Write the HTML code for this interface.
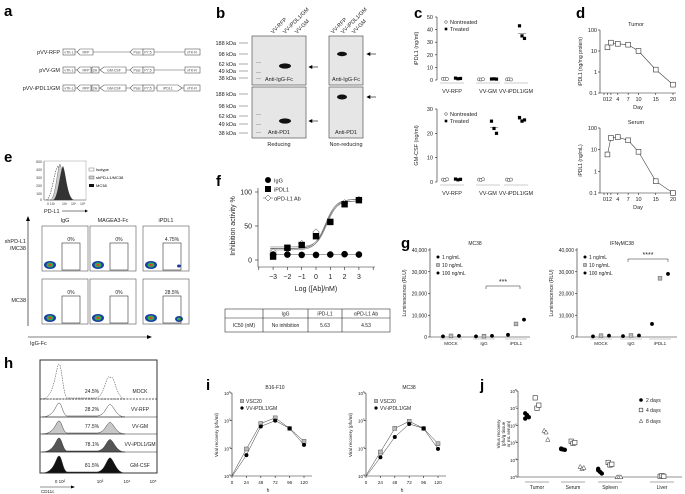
<!DOCTYPE html>
<html><head><meta charset="utf-8">
<style>
html,body{margin:0;padding:0;background:#fff;}
svg{display:block;font-family:"Liberation Sans",Arial,sans-serif;}
.t{font-size:5.5px;fill:#222;}
.L{font-size:15px;font-weight:bold;fill:#000;}
</style></head>
<body>
<svg id="fig" width="685" height="494" viewBox="0 0 685 494" xmlns="http://www.w3.org/2000/svg">
<text class="L" x="4" y="16">a</text>
<text class="L" x="216" y="18">b</text>
<text class="L" x="414" y="18">c</text>
<text class="L" x="576" y="18">d</text>
<text class="L" x="4" y="162">e</text>
<text class="L" x="216" y="186">f</text>
<text class="L" x="401" y="248">g</text>
<text class="L" x="4" y="368">h</text>
<text class="L" x="206" y="390">i</text>
<text class="L" x="480" y="390">j</text>

<g id="pa" stroke="#555" stroke-width="0.6" fill="#fff">
<text class="t" x="60" y="54" text-anchor="end" stroke="none">pVV-RFP</text>
<line x1="75" y1="52" x2="186" y2="52"/>
<rect x="63" y="49" width="12" height="6"/>
<polygon points="80,49 93,49 93,55 80,55 77,52"/>
<polygon points="133,49 143,49 143,55 133,55 130,52"/>
<rect x="143" y="49" width="11" height="6"/>
<rect x="185" y="49" width="15" height="6"/>
<text class="t" x="60" y="72" text-anchor="end" stroke="none">pVV-GM</text>
<line x1="75" y1="70" x2="186" y2="70"/>
<rect x="63" y="67" width="12" height="6"/>
<polygon points="80,67 91,67 91,73 80,73 77,70"/>
<rect x="92" y="67" width="7" height="6"/>
<polygon points="104,67 126,67 126,73 104,73 100,70"/>
<polygon points="133,67 143,67 143,73 133,73 130,70"/>
<rect x="143" y="67" width="11" height="6"/>
<rect x="185" y="67" width="15" height="6"/>
<text class="t" x="60" y="90" text-anchor="end" stroke="none">pVV-iPDL1/GM</text>
<line x1="75" y1="88" x2="186" y2="88"/>
<rect x="63" y="85" width="12" height="6"/>
<polygon points="80,85 91,85 91,91 80,91 77,88"/>
<rect x="92" y="85" width="7" height="6"/>
<polygon points="104,85 126,85 126,91 104,91 100,88"/>
<polygon points="133,85 143,85 143,91 133,91 130,88"/>
<rect x="143" y="85" width="11" height="6"/>
<polygon points="157,85 178,85 182,88 178,91 157,91"/>
<rect x="184" y="85" width="16" height="6"/>
<g stroke="none" fill="#444" font-size="3.5" text-anchor="middle">
<text x="69" y="53.5">vTK-L</text><text x="86" y="53.5">RFP</text><text x="137" y="53.5">PseI</text><text x="148" y="53.5">P7.5</text><text x="192" y="53.5">vTK-R</text>
<text x="69" y="71.5">vTK-L</text><text x="86" y="71.5">RFP</text><text x="95" y="71.5">2A</text><text x="114" y="71.5">GM-CSF</text><text x="137" y="71.5">PseI</text><text x="148" y="71.5">P7.5</text><text x="192" y="71.5">vTK-R</text>
<text x="69" y="89.5">vTK-L</text><text x="86" y="89.5">RFP</text><text x="95" y="89.5">2A</text><text x="114" y="89.5">GM-CSF</text><text x="137" y="89.5">PseI</text><text x="148" y="89.5">P7.5</text><text x="168" y="89.5">iPDL1</text><text x="192" y="89.5">vTK-R</text>
</g>
</g>

<g>
<rect x="252" y="36" width="54" height="49" fill="#e6e6e6" stroke="#555" stroke-width="0.7"/>
<rect x="252" y="87" width="54" height="51" fill="#e6e6e6" stroke="#555" stroke-width="0.7"/>
<rect x="329" y="36" width="34" height="49" fill="#e6e6e6" stroke="#555" stroke-width="0.7"/>
<rect x="329" y="87" width="34" height="51" fill="#e6e6e6" stroke="#555" stroke-width="0.7"/>
<ellipse cx="285" cy="66" rx="6" ry="2.6" fill="#111"/>
<ellipse cx="285" cy="121" rx="6" ry="2.6" fill="#111"/>
<ellipse cx="342" cy="54" rx="5" ry="2.2" fill="#111"/>
<ellipse cx="342" cy="97" rx="5" ry="2.5" fill="#111"/>
<g fill="#bbb"><rect x="256" y="62" width="5" height="1"/><rect x="256" y="72" width="5" height="1"/><rect x="256" y="78" width="5" height="1"/><rect x="256" y="114" width="5" height="1"/><rect x="256" y="124" width="5" height="1"/><rect x="256" y="132" width="5" height="1"/></g>
<g class="t" text-anchor="end" font-size="5">
<text x="236" y="45">188 kDa</text><text x="236" y="56">98 kDa</text><text x="236" y="66">62 kDa</text><text x="236" y="73">49 kDa</text><text x="236" y="80">38 kDa</text>
<text x="236" y="96">188 kDa</text><text x="236" y="108">98 kDa</text><text x="236" y="118">62 kDa</text><text x="236" y="126">49 kDa</text><text x="236" y="135">38 kDa</text>
</g>
<g stroke="#555" stroke-width="0.5"><line x1="239" y1="43" x2="248" y2="43"/><line x1="239" y1="54" x2="248" y2="54"/><line x1="239" y1="64" x2="248" y2="64"/><line x1="239" y1="71" x2="248" y2="71"/><line x1="239" y1="78" x2="248" y2="78"/><line x1="239" y1="94" x2="248" y2="94"/><line x1="239" y1="106" x2="248" y2="106"/><line x1="239" y1="116" x2="248" y2="116"/><line x1="239" y1="124" x2="248" y2="124"/><line x1="239" y1="133" x2="248" y2="133"/></g>
<text class="t" x="279" y="81" text-anchor="middle">Anti-IgG-Fc</text>
<text class="t" x="279" y="134" text-anchor="middle">Anti-PD1</text>
<text class="t" x="346" y="81" text-anchor="middle">Anti-IgG-Fc</text>
<text class="t" x="346" y="134" text-anchor="middle">Anti-PD1</text>
<text class="t" x="279" y="146" text-anchor="middle">Reducing</text>
<text class="t" x="346" y="146" text-anchor="middle">Non-reducing</text>
<g class="t" font-size="4.5">
<text transform="translate(273,34) rotate(-45)">VV-RFP</text><text transform="translate(285,34) rotate(-45)">VV-iPDL1/GM</text><text transform="translate(297,34) rotate(-45)">VV-GM</text>
<text transform="translate(333,34) rotate(-45)">VV-RFP</text><text transform="translate(343,34) rotate(-45)">VV-iPDL1/GM</text><text transform="translate(354,34) rotate(-45)">VV-GM</text>
</g>
<g stroke="#000" stroke-width="0.6" fill="#000"><line x1="310" y1="67" x2="318" y2="67"/><polygon points="309,67 312,65.5 312,68.5"/><line x1="310" y1="121" x2="318" y2="121"/><polygon points="309,121 312,119.5 312,122.5"/><line x1="368" y1="54" x2="376" y2="54"/><polygon points="367,54 370,52.5 370,55.5"/><line x1="368" y1="97" x2="376" y2="97"/><polygon points="367,97 370,95.5 370,98.5"/></g>
</g>

<g>
<g>
<line x1="44" y1="161" x2="44" y2="200" stroke="#444" stroke-width="0.5"/><line x1="44" y1="200" x2="86" y2="200" stroke="#444" stroke-width="0.5"/>
<rect x="44" y="161" width="42" height="39" fill="none" stroke="#888" stroke-width="0.4"/>
<path d="M46,200 C52,199 54,170 58,166 C61,172 62,198 70,200Z" fill="none" stroke="#444" stroke-width="0.6" stroke-dasharray="1.5,1"/>
<path d="M50,200 C56,199 57,168 60,164 C63,170 64,198 72,200Z" fill="#ccc" stroke="#555" stroke-width="0.4"/>
<path d="M53,200 C58,199 60,170 63,166 C66,172 67,198 74,200Z" fill="#333"/>
<g font-size="3.5" fill="#333" text-anchor="end"><text x="42" y="163">500</text><text x="42" y="171">400</text><text x="42" y="179">300</text><text x="42" y="187">200</text><text x="42" y="195">100</text><text x="42" y="201">0</text></g>
<g font-size="3.5" fill="#333"><text x="47" y="205">0 10²</text><text x="62" y="205">10³</text><text x="71" y="205">10⁴</text><text x="80" y="205">10⁵</text></g>
<text class="t" x="44" y="213">PD-L1</text><line x1="62" y1="211" x2="86" y2="211" stroke="#000" stroke-width="0.5"/><polygon points="88,211 85,209.5 85,212.5"/>
<rect x="89" y="168" width="5" height="3" fill="#fff" stroke="#555" stroke-width="0.4"/><text font-size="4" x="96" y="171">Isotype</text>
<rect x="89" y="176" width="5" height="3" fill="#ccc" stroke="#555" stroke-width="0.4"/><text font-size="4" x="96" y="179">shPD-L1/MC38</text>
<rect x="89" y="184" width="5" height="3" fill="#111"/><text font-size="4" x="96" y="187">MC38</text>
</g>
<g id="egrid"></g>
<line x1="28" y1="326" x2="28" y2="220" stroke="#000" stroke-width="0.6"/><polygon points="28,216 26,221 30,221"/>
<line x1="28" y1="337" x2="148" y2="337" stroke="#000" stroke-width="0.6"/><polygon points="152,337 147,335 147,339"/>
<text class="t" x="30" y="345">IgG-Fc</text>
<text class="t" x="26" y="243" text-anchor="end">shPD-L1</text><text class="t" x="26" y="250" text-anchor="end">/MC38</text>
<text class="t" x="26" y="302" text-anchor="end">MC38</text>
</g>

<g id="ph"></g>
<g id="charts"></g>
</svg>
<script>
// c
const cGroups = ['VV-RFP','VV-GM','VV-iPDL1/GM'];
const cIpdl1Non = [[1,1,0.8],[0.5,0.4,0.6],[0.5,0.6,0.4]];
const cIpdl1Tr = [[1.5,1.0,1.2],[0.8,0.9,0.7],[43,35,33]];
const cGmNon = [[1,0.8,1.1],[1,0.9,1.1],[1,0.8,1.0]];
const cGmTr = [[1.2,0.9,1.1],[25,22,20],[26.5,25,25.5]];
// d
const dDays = [1,2,4,7,10,15,20];
const dTumor = [15,25,22,20,10,1.3,0.25];
const dSerum = [6,35,38,27,8,0.35,0.1];
const dTicks = [0,1,2,4,7,10,15,20];
// e
const ePercents = [['0%','0%','4.75%'],['0%','0%','28.5%']];
const eCols = ['IgG','MAGEA3-Fc','iPDL1'];
// f
const fX = [-3,-2,-1,0,1,2,3];
const fIgG = [8,8,7.5,7.5,8,8.5,8];
const fIpdl1 = [5,18,22,35,56,82,88];
const fAb = [12,16,24,41,56,84,89];
const fFitIpdl1 = [18,88,0.75];
const fFitAb = [16,88,0.66];
const fTable = [['','IgG','iPD-L1','αPD-L1 Ab'],['IC50 (nM)','No inhibition','5.63','4.53']];
// g
const gGroups = ['MOCK','IgG','iPDL1'];
const gDoses = ['1 ng/mL','10 ng/mL','100 ng/mL'];
const gMC38 = [[300,300,1000],[500,400,6000],[500,500,8000]];
const gIFN = [[300,400,6000],[600,700,27000],[600,700,29000]];
const gTicks = [0,10000,20000,30000,40000];
// h
const hRows = ['MOCK','VV-RFP','VV-GM','VV-iPDL1/GM','GM-CSF'];
const hPct = ['24.5%','28.2%','77.5%','78.1%','81.5%'];
const hFill = ['none','#fff','#c8c8c8','#555','#111'];
// i
const iHours = [0,24,48,72,96,120];
const iB16Vsc = [1e3,9e3,7.5e4,1.2e5,5e4,1.7e4];
const iB16Ipd = [1e3,6e3,6.5e4,1.05e5,5.5e4,1.4e4];
const iMcVsc = [1e3,7e3,5e4,9e4,5e4,1.4e4];
const iMcIpd = [1e3,5e3,2.7e4,8e4,5.5e4,1e4];
// j
const jGroups = ['Tumor','Serum','Spleen','Liver'];
const jDay2 = [[5e6,4e6,3e6,2.5e6,3.5e6],[4.5e4,4e4,3.8e4,4.2e4],[3e3,2e3,1.6e3,2.5e3],[]];
const jDay4 = [[4e7,1e7,1.5e7],[1.2e5,9e4,1e5],[7e3,5e3,5.5e3],[1.1e3,1.2e3,1.1e3]];
const jDay8 = [[5e5,4e5,1.5e5],[4e3,3e3,3.5e3],[1e3,1e3,1e3],[]];

const NS='http://www.w3.org/2000/svg';
function mk(tag,attrs,parent){const e=document.createElementNS(NS,tag);for(const k in attrs)e.setAttribute(k,attrs[k]);(parent||root).appendChild(e);return e;}
const root=document.getElementById('charts');
function txt(x,y,s,opt,parent){const e=mk('text',Object.assign({x:x,y:y,'font-size':5.5,fill:'#222'},opt||{}),parent);e.textContent=s;return e;}
function lin(a,b,c,d,parent,extra){return mk('line',Object.assign({x1:a,y1:b,x2:c,y2:d,stroke:'#222','stroke-width':0.6},extra||{}),parent);}
function linY(v,v0,v1,p0,p1){return p0+(v-v0)/(v1-v0)*(p1-p0);}
function logY(v,v0,v1,p0,p1){return p0+(Math.log10(v)-Math.log10(v0))/(Math.log10(v1)-Math.log10(v0))*(p1-p0);}
function marker(type,x,y,r,parent){let e;
 if(type==='circle'){e=mk('circle',{cx:x,cy:y,r:r,fill:'#000'},parent);}
 else if(type==='ocircle'){e=mk('circle',{cx:x,cy:y,r:r,fill:'#fff',stroke:'#333','stroke-width':0.5},parent);}
 else if(type==='square'){e=mk('rect',{x:x-r,y:y-r,width:2*r,height:2*r,fill:'#000'},parent);}
 else if(type==='osquare'){e=mk('rect',{x:x-r,y:y-r,width:2*r,height:2*r,fill:'#fff',stroke:'#333','stroke-width':0.6},parent);}
 else if(type==='gsquare'){e=mk('rect',{x:x-r,y:y-r,width:2*r,height:2*r,fill:'#bbb',stroke:'#555','stroke-width':0.5},parent);}
 else if(type==='diamond'){e=mk('polygon',{points:`${x},${y-r} ${x+r},${y} ${x},${y+r} ${x-r},${y}`,fill:'#fff',stroke:'#333','stroke-width':0.5},parent);}
 else {e=mk('polygon',{points:`${x},${y-r} ${x+r},${y+r*0.8} ${x-r},${y+r*0.8}`,fill:'#fff',stroke:'#333','stroke-width':0.5},parent);}
 return e;}

function panelC(vals0,vals1,yMax,yTop,yBot,ylab,name,labY){
 const g=mk('g',{});
 
 
 const ax=437, centers=[452,488,516];
 lin(ax,yTop,ax,yBot,g);
 for(let v=0;v<=yMax;v+=10){const y=linY(v,0,yMax,yBot,yTop);lin(ax-2,y,ax,y,g);txt(ax-4,y+2,String(v),{'text-anchor':'end'},g);}
 const yl=txt(0,0,ylab,{'text-anchor':'middle',transform:`translate(418,${(yTop+yBot)/2}) rotate(-90)`},g);
 
 
 cGroups.forEach((gname,i)=>{const cx=centers[i];
  lin(cx-12,yBot+3,cx+12,yBot+3,g,{stroke:'#999'});
  const t=txt(cx,labY,gname,{'text-anchor':'middle'},g);
  
  
  vals0[i].forEach((v,k)=>{const m=marker('ocircle',cx-7+(k-1)*2,linY(v,0,yMax,yBot,yTop),1.6,g);});
  const mean=vals1[i].reduce((a,b)=>a+b)/vals1[i].length;
  lin(cx+2,linY(mean,0,yMax,yBot,yTop),cx+10,linY(mean,0,yMax,yBot,yTop),g,{'stroke-width':0.4});
  vals1[i].forEach((v,k)=>{const m=marker('square',cx+6+(k-1)*2.5,linY(v,0,yMax,yBot,yTop),1.6,g);});
 });
 marker('ocircle',446,yTop+5,1.3,g);txt(450,yTop+7,'Nontreated',{},g);
 marker('square',446,yTop+12,1.3,g);txt(450,yTop+14,'Treated',{},g);
}
panelC(cIpdl1Non,cIpdl1Tr,50,17,80,'iPDL1 (ng/ml)','chart-c-ipdl1',93);
panelC(cGmNon,cGmTr,30,109,182,'GM-CSF (ng/ml)','chart-c-gmcsf',195);

function panelD(vals,title,yTop,yBot,name,unit){
 const g=mk('g',{});
 
 
 const ax=600,X=d=>604+d*3.45;
 lin(ax,yTop,ax,yBot,g);lin(ax,yBot,676,yBot,g);
 [100,10,1,0.1].forEach(v=>{const y=logY(v,0.1,100,yBot,yTop);lin(ax-2,y,ax,y,g);txt(ax-3,y+2,String(v),{'text-anchor':'end'},g);});
 dTicks.forEach(d=>lin(X(d),yBot,X(d),yBot+2,g));
 [['012',1],['4',4],['7',7],['10',10],['15',15],['20',20]].forEach(a=>txt(X(a[1]),yBot+8,a[0],{'text-anchor':'middle'},g));
 txt(638,yBot+16,'Day',{'text-anchor':'middle'},g);
 txt(636,yTop-4,title,{'text-anchor':'middle'},g);
 txt(0,0,unit,{'text-anchor':'middle',transform:`translate(582,${(yTop+yBot)/2}) rotate(-90)`,'font-size':5},g);
 const pts=dDays.map((d,i)=>[X(d),logY(vals[i],0.1,100,yBot,yTop)]);
 mk('polyline',{points:pts.map(p=>p.join(',')).join(' '),fill:'none',stroke:'#444','stroke-width':0.6},g);
 pts.forEach(p=>{const m=marker('osquare',p[0],p[1],2.4,g);});
}
panelD(dTumor,'Tumor',30,93,'chart-d-tumor','iPDL1 (ng/mg protein)');
panelD(dSerum,'Serum',128,193,'chart-d-serum','iPDL1 (ng/mL)');

(function(){const g=document.getElementById('egrid');
 const cx=[42,90,143],cy=[226,279],w=46,h=45;
 eCols.forEach((c,j)=>{const t=txt(cx[j]+w/2,222,c,{'text-anchor':'middle'},g);});
 for(let r=0;r<2;r++)for(let j=0;j<3;j++){
  const x=cx[j],y=cy[r];
  const b=mk('rect',{x:x,y:y,width:w,height:h,fill:'#fff',stroke:'#555','stroke-width':0.6},g);
  
  
  mk('ellipse',{cx:x+8,cy:y+h-6,rx:6,ry:4,fill:'#1a3fa8'},g);
  mk('ellipse',{cx:x+8,cy:y+h-6,rx:3.5,ry:2.5,fill:'#2db34a'},g);
  mk('ellipse',{cx:x+8,cy:y+h-6,rx:1.6,ry:1.2,fill:'#e8422a'},g);
  if(j===2){mk('ellipse',{cx:x+36,cy:y+h-5,rx:r?4:2,ry:r?3:1.5,fill:'#1a3fa8'},g);if(r)mk('ellipse',{cx:x+36,cy:y+h-5,rx:2,ry:1.4,fill:'#2db34a'},g);}
  mk('rect',{x:x+20,y:y+17,width:18,height:h-18,fill:'none',stroke:'#333','stroke-width':0.6},g);
  txt(x+29,y+15,ePercents[r][j],{'text-anchor':'middle','font-size':5},g);
 }})();

(function(){const g=mk('g',{});
 
 
 const X=v=>316+v*14.3,Y=v=>linY(v,0,100,260,192);
 lin(258,188,258,267,g);lin(258,267,375,267,g);
 [0,50,100].forEach(v=>{lin(255,Y(v),258,Y(v),g);txt(252,Y(v)+2.5,String(v),{'text-anchor':'end','font-size':7},g);});
 for(let v=-4;v<=4;v++){lin(X(v),267,X(v),270,g);}
 fX.forEach(v=>txt(X(v),279,(v<0?'−':'')+Math.abs(v),{'text-anchor':'middle','font-size':7},g));
 txt(316,291,'Log ([Ab]/nM)',{'text-anchor':'middle','font-size':7},g);
 txt(0,0,'Inhibition activity %',{'text-anchor':'middle','font-size':7,transform:'translate(235,226) rotate(-90)'},g);
 function fit(p,off){let d='';for(let v=-3.2;v<=3.2;v+=0.1){const y=p[0]+(p[1]-p[0])/(1+Math.pow(10,(p[2]-v)*1.2));d+=(d?'L':'M')+X(v)+','+(Y(y)+off);}return d;}
 [fFitIpdl1,fFitAb].forEach(p=>{[-0.8,0.8].forEach(o=>mk('path',{d:fit(p,o),fill:'none',stroke:'#333','stroke-width':0.4},g));});
 lin(X(-3),Y(8),X(3),Y(8),g,{'stroke-width':0.4});
 fX.forEach((v,i)=>{let m=marker('diamond',X(v),Y(fAb[i]),3.3,g);});
 fX.forEach((v,i)=>{let m=marker('square',X(v),Y(fIpdl1[i]),3.2,g);});
 fX.forEach((v,i)=>{let m=marker('circle',X(v),Y(fIgG[i]),3.3,g);});
 marker('circle',268,180,3,g);txt(274,182.5,'IgG',{'font-size':5.5},g);
 marker('square',268,189,3,g);txt(274,191.5,'iPDL1',{'font-size':5.5},g);
 lin(263,198,273,198,g,{'stroke-width':0.4});marker('diamond',268,198,3,g);txt(274,200.5,'αPD-L1 Ab',{'font-size':5.5},g);
 const cols=[225,263,308,342,390];
 const tb=mk('g',{},g);
 
 
 mk('rect',{x:225,y:309,width:165,height:23,fill:'none',stroke:'#333','stroke-width':0.6},tb);
 lin(225,318,390,318,tb);cols.slice(1,4).forEach(c=>lin(c,309,c,332,tb));
 fTable.forEach((row,r)=>row.forEach((s,c)=>txt((cols[c]+cols[c+1])/2,r?327:315.5,s,{'text-anchor':'middle','font-size':5},tb)));
})();

function panelG(vals,title,ax,centers,name,bracket,stars){
 const g=mk('g',{});
 
 
 const Y=v=>linY(v,0,40000,337,250);
 lin(ax,248,ax,337,g);lin(ax,337,ax+100,337,g);
 gTicks.forEach(v=>{lin(ax-2,Y(v),ax,Y(v),g);txt(ax-3,Y(v)+2,v.toLocaleString('en-US'),{'text-anchor':'end','font-size':5},g);});
 txt(0,0,'Luminescence (RLU)',{'text-anchor':'middle','font-size':5,transform:`translate(${ax-24},293) rotate(-90)`},g);
 txt(ax+45,245,title,{'text-anchor':'middle','font-size':5},g);
 const types=['circle','gsquare','circle'];
 gGroups.forEach((gn,i)=>{lin(centers[i]-11,339,centers[i]+11,339,g,{stroke:'#999'});txt(centers[i],345,gn,{'text-anchor':'middle','font-size':4.5},g);
  gDoses.forEach((d,k)=>{const m=marker(types[k],centers[i]+(k-1)*8,Y(vals[k][i]),1.9,g);});});
 lin(bracket[0],bracket[1],bracket[2],bracket[1],g,{'stroke-width':0.5});lin(bracket[0],bracket[1],bracket[0],bracket[1]+3,g,{'stroke-width':0.5});lin(bracket[2],bracket[1],bracket[2],bracket[1]+3,g,{'stroke-width':0.5});
 txt((bracket[0]+bracket[2])/2,bracket[1]-2,stars,{'text-anchor':'middle','font-size':7},g);
 gDoses.forEach((d,k)=>{marker(types[k],ax+8,257+k*8,1.5,g);txt(ax+12,259+k*8,d,{'font-size':5},g);});
}
panelG(gMC38,'MC38',430,[451,484,516],'chart-g-mc38',[486,286,520],'***');
panelG(gIFN,'IFNγMC38',577,[601,631,660],'chart-g-ifn',[628,259,668],'****');

(function(){const g=document.getElementById('ph');
 mk('rect',{x:40,y:360,width:117,height:113,fill:'#fff',stroke:'#333','stroke-width':1},g);
 const tops=[360,399,417,434,452,473];
 hRows.forEach((r,i)=>{const yb=tops[i+1],yt=tops[i];const hgt=yb-yt-4;
  const d=`M42,${yb} C55,${yb} 56,${yb-hgt} 59,${yb-hgt} C62,${yb-hgt} 63,${yb} 68,${yb-1} L95,${yb-1} C105,${yb} 106,${yb-hgt*0.8} 110,${yb-hgt*(i?0.9:0.6)} C114,${yb-hgt*0.8} 116,${yb} 125,${yb} Z`;
  const p=mk('path',{d:d,fill:hFill[i],stroke:'#333','stroke-width':0.5,'stroke-dasharray':i?'none':'1.5,1'},g);
  
  
  txt(92,yb-6,hPct[i],{'text-anchor':'middle','font-size':5},g);
  txt(140,yb-6,r,{'text-anchor':'middle','font-size':5},g);
  if(i<4)lin(40,yb,157,yb,g,{'stroke-width':i?0.6:0.8,'stroke-dasharray':i?'none':'2,1.2'});
 });
 [['0 10²',60],['10³',100],['10⁴',127],['10⁵',153]].forEach(a=>txt(a[1],483,a[0],{'text-anchor':'middle','font-size':4.5},g));
 lin(40,487,72,487,g);mk('polygon',{points:'75,487 71,485.5 71,488.5'},g);txt(41,493,'CD11c',{'font-size':4.5},g);
})();

function panelI(v1,v2,title,ax,name){
 const g=mk('g',{});
 
 
 const X=h=>ax+h*0.6,Y=v=>logY(v,1e3,1e6,476,393);
 lin(ax,393,ax,476,g);lin(ax,476,ax+80,476,g);
 [3,4,5,6].forEach(e=>{const y=Y(Math.pow(10,e));lin(ax-2,y,ax,y,g);txt(ax-3,y+2,'10',{'text-anchor':'end','font-size':4.5},g);txt(ax-3,y,String(e),{'font-size':3},g);});
 iHours.forEach(h=>{lin(X(h),476,X(h),478,g);txt(X(h),484,String(h),{'text-anchor':'middle','font-size':4.5},g);});
 txt(ax+36,492,'h',{'text-anchor':'middle','font-size':5},g);
 txt(ax+43,389,title,{'text-anchor':'middle','font-size':5},g);
 txt(0,0,'Viral recovery (pfu/ml)',{'text-anchor':'middle','font-size':4.5,transform:`translate(${ax-14},435) rotate(-90)`},g);
 [[v1,'gsquare',-0.6],[v2,'circle',0.6]].forEach(s=>{const pts=iHours.map((h,i)=>[X(h),Y(s[0][i])+s[2]]);
  mk('polyline',{points:pts.map(p=>p.join(',')).join(' '),fill:'none',stroke:'#333','stroke-width':0.5},g);
  pts.slice(1).forEach(p=>{const m=marker(s[1],p[0],p[1],2,g);});});
 marker('gsquare',ax+10,401,1.6,g);txt(ax+14,403,'VSC20',{'font-size':5},g);
 marker('circle',ax+10,408,1.6,g);txt(ax+14,410,'VV-iPDL1/GM',{'font-size':5},g);
}
panelI(iB16Vsc,iB16Ipd,'B16-F10',232,'chart-i-b16');
panelI(iMcVsc,iMcIpd,'MC38',366,'chart-i-mc38');

(function(){const g=mk('g',{});
 
 
 const ax=518,Y=v=>logY(v,1e3,1e8,477,391),centers=[537,573,610,662];
 lin(ax,391,ax,477,g);lin(ax,477,682,477,g);
 [3,4,5,6,7,8].forEach(e=>{const y=Y(Math.pow(10,e));lin(ax-2,y,ax,y,g);txt(ax-3,y+2,'10',{'text-anchor':'end','font-size':4.5},g);txt(ax-3,y,String(e),{'font-size':3},g);});
 txt(0,0,'Virus recovery',{'text-anchor':'middle','font-size':4.5,transform:'translate(500,434) rotate(-90)'},g);
 txt(0,0,'(pfu/g tissue',{'text-anchor':'middle','font-size':4.5,transform:'translate(505,434) rotate(-90)'},g);
 txt(0,0,'or mL serum)',{'text-anchor':'middle','font-size':4.5,transform:'translate(510,434) rotate(-90)'},g);
 jGroups.forEach((gn,i)=>{lin(centers[i]-12,482,centers[i]+12,482,g,{stroke:'#aaa','stroke-width':1});txt(centers[i],489,gn,{'text-anchor':'middle','font-size':5},g);
  [[jDay2,'circle',-10],[jDay4,'osquare',0],[jDay8,'tri',9]].forEach(s=>{s[0][i].forEach((v,k)=>{const m=marker(s[1],centers[i]+s[2]+(k%3-1)*1.8,Y(v),2.2,g);});});});
 marker('circle',641,400,1.8,g);txt(646,402,'2 days',{'font-size':5},g);
 marker('osquare',641,410,1.8,g);txt(646,412,'4 days',{'font-size':5},g);
 marker('tri',641,421,1.8,g);txt(646,423,'8 days',{'font-size':5},g);
})();
</script>
</body></html>
